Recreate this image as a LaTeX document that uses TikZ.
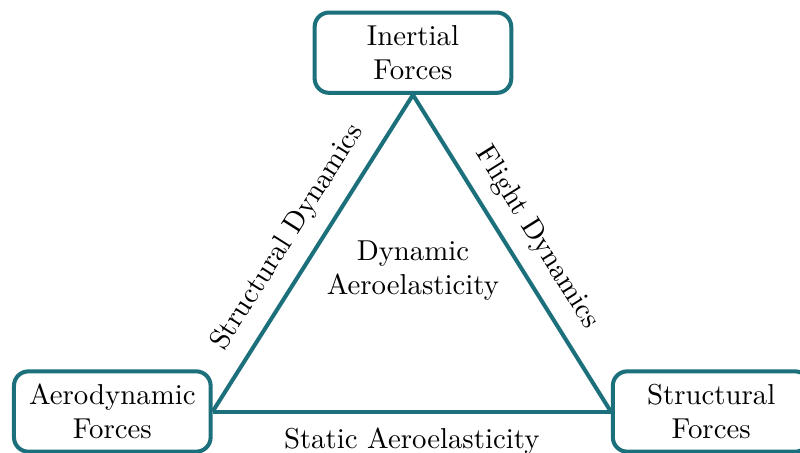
\documentclass[tikz,border=0pt]{standalone}
\usepackage{xcolor}
\usetikzlibrary{positioning, calc}

\definecolor{aeroteal}{RGB}{28,112,124}

\begin{document}
\begin{tikzpicture}[
	  force/.style={draw=aeroteal, rounded corners=5pt, align=center, line width=1.4pt,
	    minimum width=24mm, minimum height=9.8mm, inner sep=2pt},
	  triline/.style={draw=aeroteal, line width=1.4pt},
	  elabel/.style={sloped, midway, inner sep=5pt}
	]
	\useasboundingbox (-143.4pt,18.3pt) rectangle (134.4pt,-138.7pt);

	\node[force] (inertial) {Inertial\\Forces};
	\node[force, below left=33.5mm and 12.2mm of inertial] (aero) {Aerodynamic\\Forces};
	\node[force, below right=33.5mm and 11.9mm of inertial] (struct) {Structural\\Forces};

	\node[align=center] (dynamic) at ($(inertial)+(0,-75.7pt)$) {Dynamic\\Aeroelasticity};

	\draw[triline] (aero.east) -- node[elabel, above] (sdyn) {Structural Dynamics} (inertial.south);
	\draw[triline] (inertial.south) -- node[elabel, above] (fdyn) {Flight Dynamics} (struct.west);
	\draw[triline] (aero.east) -- node[elabel, below] (stat) {Static Aeroelasticity} (struct.west);

\end{tikzpicture}
\end{document}
